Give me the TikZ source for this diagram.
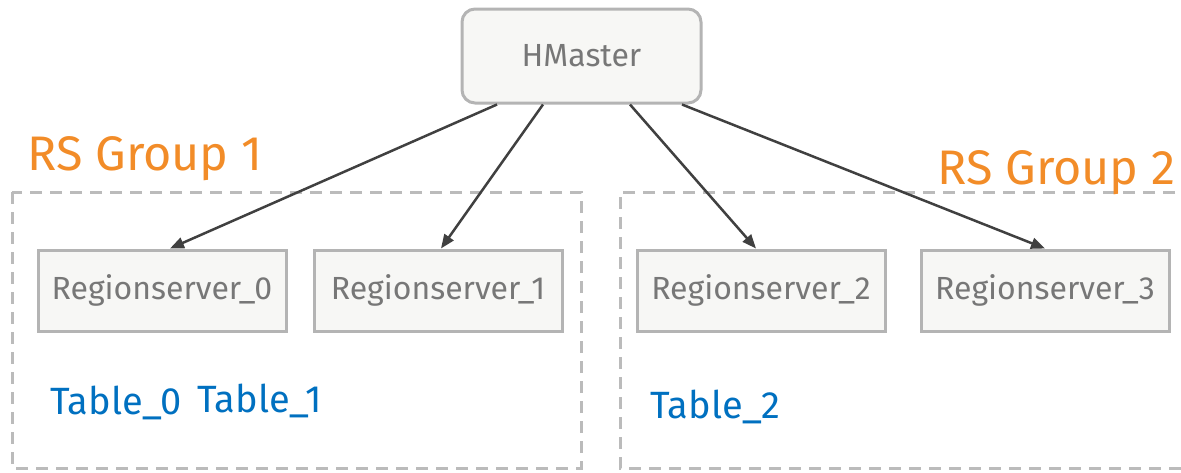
\documentclass[tikz,border=0pt]{standalone}
\usepackage{fontspec}
\setmainfont{Fira Sans}
\usetikzlibrary{arrows.meta}
\definecolor{boxfill}{HTML}{F7F7F5}
\definecolor{boxline}{HTML}{B4B4B4}
\definecolor{boxtext}{HTML}{777777}
\definecolor{grouporange}{HTML}{F28C28}
\definecolor{tableblue}{HTML}{0070C0}
\definecolor{arrowgray}{HTML}{404040}
\definecolor{dashgray}{HTML}{BBBBBB}
\tikzset{
  server/.style={draw=boxline, line width=3pt, fill=boxfill, text=boxtext,
    minimum width=248pt, minimum height=81pt, inner sep=0pt,
    font=\fontsize{32}{37}\selectfont},
  master/.style={server, rounded corners=13pt, minimum width=239pt, minimum height=94pt},
  groupframe/.style={draw=dashgray, line width=3pt, dash pattern=on 12pt off 8pt},
  grouplabel/.style={text=grouporange, font=\fontsize{48.5}{54}\selectfont, inner sep=0pt, anchor=base west},
  tablelabel/.style={text=tableblue, font=\fontsize{38}{44}\selectfont, inner sep=0pt, anchor=base west},
  link/.style={draw=arrowgray, line width=2.5pt, -{Triangle[length=14pt,width=11pt]}}
}
\begin{document}
\begin{tikzpicture}[x=1pt,y=-1pt]
  \useasboundingbox (0,0) rectangle (1181,472);
  % group frames
  \draw[groupframe] (12,192) rectangle (581,468);
  \draw[groupframe] (1195,192) -- (620,192) -- (620,468) -- (1195,468);
  % group titles
  \node[grouplabel] (g1) at (27,170) {RS Group 1};
  \node[grouplabel] (g2) at (937,184) {RS Group 2};
  % master
  \node[master] (hm) at (581.5,56) {HMaster};
  % region servers
  \node[server] (rs0) at (162,290.5) {Regionserver\_0};
  \node[server] (rs1) at (438,290.5) {Regionserver\_1};
  \node[server] (rs2) at (761,290.5) {Regionserver\_2};
  \node[server] (rs3) at (1045,290.5) {Regionserver\_3};
  % tables
  \node[tablelabel] (t0) at (50,414) {Table\_0};
  \node[tablelabel] (t1) at (197,412) {Table\_1};
  \node[tablelabel] (t2) at (650,418) {Table\_2};
  % assignments
  \draw[link] ([xshift=-84.5pt]hm.south) -- ([xshift=8pt]rs0.north);
  \draw[link] ([xshift=-38.5pt]hm.south) -- ([xshift=3pt]rs1.north);
  \draw[link] ([xshift=48.5pt]hm.south) -- ([xshift=-5pt]rs2.north);
  \draw[link] ([xshift=100.5pt]hm.south) -- (rs3.north);
\end{tikzpicture}
\end{document}
